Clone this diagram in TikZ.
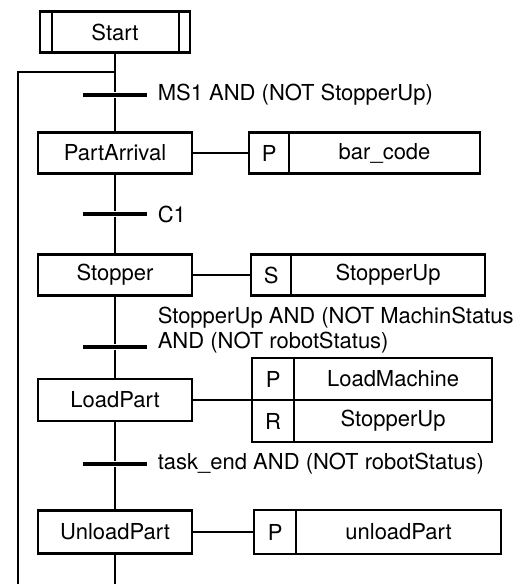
\documentclass[tikz,border=0pt]{standalone}
\usepackage{fontspec}
\setmainfont{TeX Gyre Heros}
\usetikzlibrary{positioning,calc}

\begin{document}
\begin{tikzpicture}[
    x=0.5pt, y=-0.5pt,
    every node/.style={font=\fontsize{11}{12.5}\selectfont},
    line/.style={line width=1.1pt},
    stepbox/.style={rectangle, draw, line width=1.1pt, minimum width=77pt, minimum height=20.5pt, inner sep=2pt},
    qual/.style={rectangle, draw, line width=1.1pt, minimum width=20pt, minimum height=20.5pt, inner sep=0pt, outer sep=0pt},
    act/.style={rectangle, draw, line width=1.1pt, minimum width=97pt, minimum height=20.5pt, inner sep=0pt, outer sep=0pt},
    bar/.style={rectangle, fill=black, minimum width=32pt, minimum height=2.2pt, inner sep=0pt},
    cond/.style={align=left, inner sep=0pt}
]
\useasboundingbox (0,0) rectangle (513,584);

% Steps
\node[stepbox, minimum width=75pt] (start) at (115,32) {Start};
\node[stepbox] (arrival) at (115,153) {PartArrival};
\node[stepbox] (stopper) at (115,275) {Stopper};
\node[stepbox, minimum height=21pt] (load) at (115,400) {LoadPart};
\node[stepbox, minimum height=21.5pt] (unload) at (115,532) {UnloadPart};

% Initial step double lines
\draw[line] ([xshift=6.5pt]start.north west) -- ([xshift=6.5pt]start.south west);
\draw[line] ([xshift=-6pt]start.north east) -- ([xshift=-6pt]start.south east);

% Transitions
\node[bar] (t1) at (115,95) {};
\node[bar] (t2) at (115,214) {};
\node[bar] (t3) at (115,347) {};
\node[bar] (t4) at (115,464) {};

\node[cond, right=5pt of t1] (c1) {MS1 AND (NOT StopperUp)};
\node[cond, right=5pt of t2] (c2) {C1};
\node[cond, right=5pt of t3, yshift=8.25pt] (c3) {StopperUp AND (NOT MachinStatus\\AND (NOT robotStatus)};
\node[cond, right=5pt of t4] (c4) {task\_end AND (NOT robotStatus)};

% Main line
\coordinate (down) at (115,584);
\draw[line] (start) -- (t1) -- (arrival) -- (t2) -- (stopper) -- (t3) -- (load) -- (t4) -- (unload) -- (down);

% Loop back
\coordinate (loop) at (115,72);
\coordinate (loopl) at (18,72);
\coordinate (loopb) at (18,584);
\draw[line] (loopb) -- (loopl) -- (loop);

% Actions
\node[qual, right=28pt of arrival] (q1) {P};
\node[act, right=0pt of q1, minimum width=95.5pt] (a1) {bar\_code};
\draw[line] (arrival) -- (q1);

\node[qual, right=29pt of stopper] (q2) {S};
\node[act, right=0pt of q2] (a2) {StopperUp};
\draw[line] (stopper) -- (q2);

\node[qual, right=29.5pt of load, yshift=10.5pt, minimum width=21pt, minimum height=21pt] (q3a) {P};
\node[qual, below=0pt of q3a, minimum width=21pt, minimum height=21pt] (q3b) {R};
\node[act, right=0pt of q3a, minimum width=99pt, minimum height=21pt] (a3a) {LoadMachine};
\node[act, right=0pt of q3b, minimum width=99pt, minimum height=21pt] (a3b) {StopperUp};
\draw[line] (load.east) -- (q3a.south west);

\node[qual, right=30.5pt of unload, minimum width=21pt, minimum height=22pt] (q4) {P};
\node[act, right=0pt of q4, minimum width=102.5pt, minimum height=22pt] (a4) {unloadPart};
\draw[line] (unload) -- (q4);

\end{tikzpicture}
\end{document}
